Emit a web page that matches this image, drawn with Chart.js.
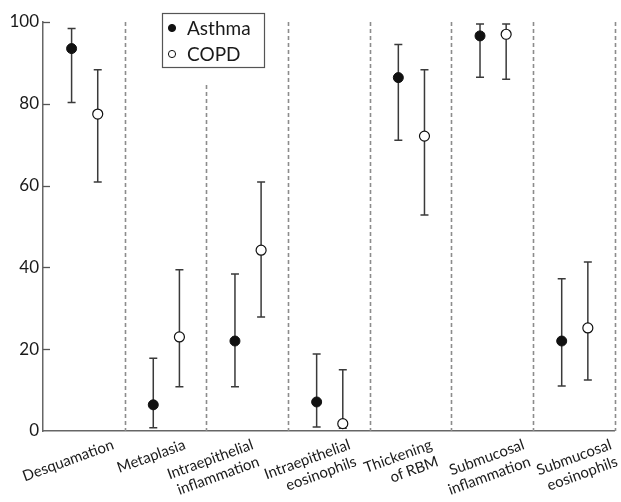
<!DOCTYPE html>
<html><head><meta charset="utf-8">
<script src="https://cdn.jsdelivr.net/npm/chart.js@4"></script>
<style>
html,body{margin:0;padding:0;background:#fff}
#wrap{position:relative;width:621px;height:502px;overflow:hidden}
.cat{position:absolute;white-space:pre;text-align:right;font:15px Lato,"Open Sans",sans-serif;line-height:18px;color:#1a1a1a;transform-origin:100% 9px;transform:rotate(-20deg)}
</style>
</head><body><div id="wrap"><canvas id="c" width="621" height="502"></canvas></div>
<script>
// ---- data ----
const categories = [["Desquamation"],["Metaplasia"],["Intraepithelial","inflammation"],["Intraepithelial","eosinophils"],["Thickening","of RBM"],["Submucosal","inflammation"],["Submucosal","eosinophils"]];
const seriesNames = ["Asthma","COPD"];
const asthmaValues = [93.5, 6.4, 22, 7.1, 86.4, 96.6, 22];
const asthmaLow    = [80.3, 0.8, 10.8, 1.0, 71.1, 86.5, 11.0];
const asthmaHigh   = [98.4, 17.8, 38.4, 18.8, 94.5, 99.5, 37.2];
const copdValues   = [77.5, 23.0, 44.2, 1.8, 72.1, 97.0, 25.2];
const copdLow      = [60.9, 10.8, 27.9, 0.7, 52.8, 86.0, 12.5];
const copdHigh     = [88.3, 39.4, 60.9, 15.0, 88.3, 99.5, 41.3];
const yTicks = [0, 20, 40, 60, 80, 100];

// ---- layout helpers (not data) ----
const seriesOffset = [-0.15, 0.17];
const labelNudge = [29, 19, 5, 20, 21, 31, 37];
const FONT = 'Lato, "Open Sans", sans-serif';

function pts(vals, lo, hi, off) {
  return vals.map((v, i) => ({ x: i + 0.5 + off, y: v, lo: lo[i], hi: hi[i] }));
}

const deco = {
  id: 'deco',
  beforeDatasetsDraw(chart) {
    const ctx = chart.ctx, xs = chart.scales.x, ys = chart.scales.y;
    const legendBottom = 67;
    ctx.save();
    ctx.strokeStyle = '#8c8c8c';
    ctx.lineWidth = 1.6;
    ctx.setLineDash([4, 3]);
    for (let k = 1; k <= categories.length; k++) {
      const x = Math.round(xs.getPixelForValue(k)) + 0.5;
      const top = k === 2 ? legendBottom + 18 : ys.getPixelForValue(100);
      ctx.beginPath(); ctx.moveTo(x, top); ctx.lineTo(x, ys.getPixelForValue(0)); ctx.stroke();
    }
    ctx.setLineDash([]);
    ctx.strokeStyle = '#555'; ctx.lineWidth = 1.3;
    yTicks.forEach(v => {
      if (v === 0) return;
      const y = Math.round(ys.getPixelForValue(v)) + 0.5;
      ctx.beginPath(); ctx.moveTo(xs.left, y); ctx.lineTo(xs.left + 7, y); ctx.stroke();
    });
    ctx.strokeStyle = '#3a3a3a'; ctx.lineWidth = 1.5;
    chart.data.datasets.forEach(ds => {
      ds.data.forEach(p => {
        const x = xs.getPixelForValue(p.x);
        const yl = ys.getPixelForValue(p.lo), yh = ys.getPixelForValue(p.hi);
        ctx.beginPath();
        ctx.moveTo(x, yl); ctx.lineTo(x, yh);
        ctx.moveTo(x - 4, yl); ctx.lineTo(x + 4, yl);
        ctx.moveTo(x - 4, yh); ctx.lineTo(x + 4, yh);
        ctx.stroke();
      });
    });
    ctx.restore();
  },
  afterDraw(chart) {
    const ctx = chart.ctx;
    ctx.save();
    ctx.strokeStyle = '#555'; ctx.lineWidth = 1.2;
    ctx.strokeRect(162.5, 13.5, 102, 54);
    const rows = [28, 54];
    chart.data.datasets.forEach((ds, i) => {
      ctx.beginPath();
      ctx.arc(172, rows[i], 3.6, 0, Math.PI * 2);
      ctx.fillStyle = ds.backgroundColor; ctx.fill();
      ctx.strokeStyle = '#111'; ctx.lineWidth = 1; ctx.stroke();
      ctx.fillStyle = '#1a1a1a';
      ctx.font = '19px ' + FONT;
      ctx.textAlign = 'left'; ctx.textBaseline = 'middle';
      ctx.fillText(ds.label, 187, rows[i] + 1);
    });
    ctx.restore();
  }
};

const chart = new Chart(document.getElementById('c'), {
  type: 'scatter',
  data: {
    datasets: [
      { label: seriesNames[0], data: pts(asthmaValues, asthmaLow, asthmaHigh, seriesOffset[0]),
        backgroundColor: '#111', borderColor: '#111', borderWidth: 1, pointRadius: 5, pointHoverRadius: 5 },
      { label: seriesNames[1], data: pts(copdValues, copdLow, copdHigh, seriesOffset[1]),
        backgroundColor: '#fff', borderColor: '#111', borderWidth: 1.2, pointRadius: 5, pointHoverRadius: 5 }
    ]
  },
  options: {
    responsive: false, animation: false, devicePixelRatio: 1,
    layout: { padding: { top: 22, right: 4, left: 0, bottom: 0 } },
    plugins: { legend: { display: false }, tooltip: { enabled: false } },
    scales: {
      x: {
        type: 'linear', min: 0, max: categories.length,
        ticks: { display: false },
        grid: { display: true, drawOnChartArea: false, drawTicks: false },
        border: { display: true, color: '#666', width: 1.5 },
        afterFit: s => { s.height = 71; }
      },
      y: {
        min: 0, max: 100,
        afterBuildTicks: s => { s.ticks = yTicks.map(v => ({ value: v })); },
        ticks: { color: '#1a1a1a', font: { family: FONT, size: 17 }, padding: 4 },
        grid: { display: true, drawOnChartArea: false, drawTicks: false },
        border: { display: true, color: '#666', width: 1.5 },
        afterFit: s => { s.width = 43; }
      }
    }
  },
  plugins: [deco]
});

// category labels as rotated HTML text, placed from the x scale
(function placeLabels() {
  const wrap = document.getElementById('wrap');
  const xs = chart.scales.x, ys = chart.scales.y;
  const base = ys.getPixelForValue(0);
  categories.forEach((lines, i) => {
    const ax = xs.getPixelForValue(i + 0.5) + labelNudge[i];
    const ay = base + 12;
    const d = document.createElement('div');
    d.className = 'cat';
    d.textContent = lines.join('\n');
    d.style.right = (621 - ax) + 'px';
    d.style.top = (ay - 9) + 'px';
    wrap.appendChild(d);
  });
})();
</script>
</body></html>
